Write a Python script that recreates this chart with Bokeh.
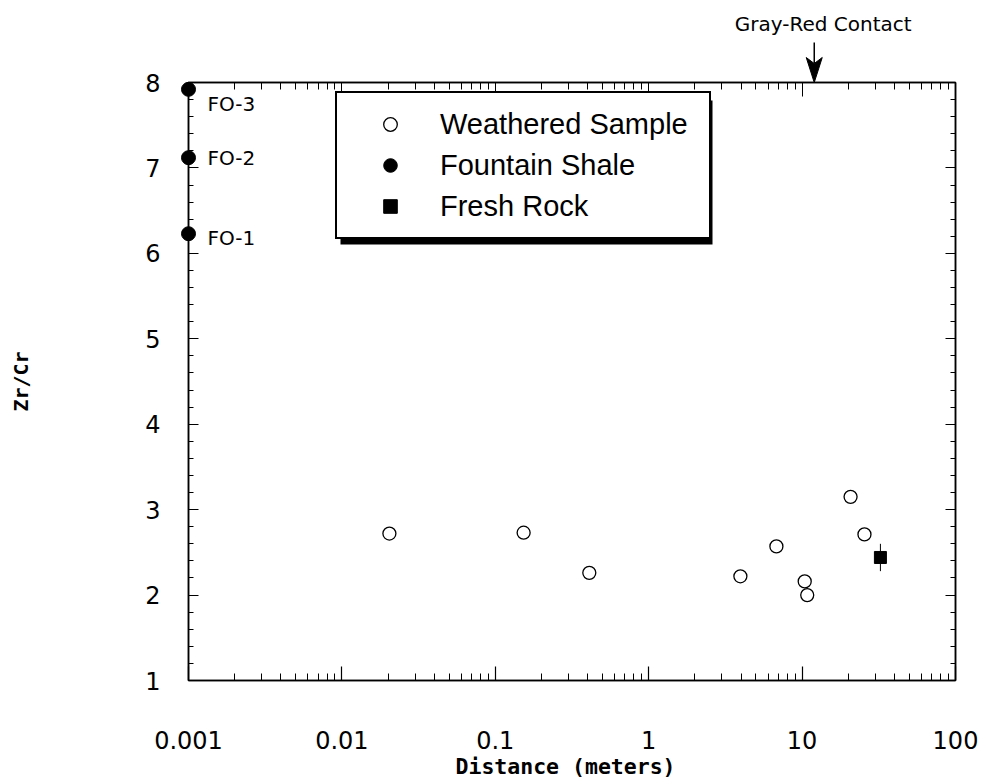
from bokeh.plotting import figure
from bokeh.models import (LogAxis, LinearAxis, LogTicker, BasicTicker, Legend, LegendItem,
                          BoxAnnotation, Range1d)
from bokeh.core.properties import value
from bokeh.embed import file_html
from bokeh.resources import INLINE

# ---- data ----
weathered_x = [0.0204, 0.153, 0.41, 3.96, 6.8, 10.4, 10.8, 20.7, 25.5]
weathered_y = [2.72, 2.73, 2.26, 2.22, 2.57, 2.16, 2.00, 3.15, 2.71]
shale_x = [0.001, 0.001, 0.001]
shale_y = [7.92, 7.12, 6.23]
shale_labels = ["FO-3", "FO-2", "FO-1"]
fresh_x = [32.4]
fresh_y = [2.44]
fresh_err = [0.16]
x_ticks = [0.001, 0.01, 0.1, 1, 10, 100]
x_tick_labels = ["0.001", "0.01", "0.1", "1", "10", "100"]
contact_x = [12.0]
contact_text = ["Gray-Red Contact"]

X_MIN, X_MAX = 0.001, 100
Y_MIN, Y_MAX = 1, 8
SANS = "Liberation Sans"
TICKF = "DejaVu Sans"
MONO = "DejaVu Sans Mono"

FRAME_LEFT, FRAME_RIGHT = 188, 955
FRAME_TOP, FRAME_BOTTOM = 82, 680
PX_PER_Y = (FRAME_BOTTOM - FRAME_TOP) / (Y_MAX - Y_MIN)
PX_PER_DECADE = (FRAME_RIGHT - FRAME_LEFT) / 5.0

p = figure(width=990, height=784, x_axis_type="log",
           x_range=Range1d(X_MIN, X_MAX), y_range=Range1d(Y_MIN, Y_MAX),
           output_backend="svg", toolbar_location=None,
           min_border_left=FRAME_LEFT, min_border_right=990 - FRAME_RIGHT,
           min_border_top=FRAME_TOP, min_border_bottom=784 - FRAME_BOTTOM,
           background_fill_color="white", border_fill_color="white")
p.grid.visible = False
p.outline_line_color = "black"
p.outline_line_width = 1.5

# bottom axis
xax = p.xaxis[0]
xax.ticker = LogTicker(desired_num_ticks=6, num_minor_ticks=10)
xax.major_label_overrides = {t: l for t, l in zip(x_ticks, x_tick_labels)}
xax.axis_label = "Distance  (meters)"
xax.axis_label_text_font = MONO
xax.axis_label_text_font_style = "bold"
xax.axis_label_text_font_size = "21.5px"
xax.axis_label_text_color = "black"
xax.axis_label_standoff = 2
xax.major_label_text_font = TICKF
xax.major_label_text_font_size = "24px"
xax.major_label_text_color = "black"
xax.major_label_standoff = 50
xax.major_tick_in = 14
xax.major_tick_out = 0
xax.minor_tick_in = 7
xax.minor_tick_out = 0
xax.axis_line_width = 1.5
xax.major_tick_line_width = 1.2
xax.minor_tick_line_width = 1

# left axis
yax = p.yaxis[0]
yax.ticker = BasicTicker(desired_num_ticks=8, num_minor_ticks=5)
yax.axis_label = "Zr/Cr"
yax.axis_label_text_font = MONO
yax.axis_label_text_font_style = "bold"
yax.axis_label_text_font_size = "20px"
yax.axis_label_text_color = "black"
yax.axis_label_standoff = 109
yax.major_label_text_font = TICKF
yax.major_label_text_font_size = "24px"
yax.major_label_text_color = "black"
yax.major_label_standoff = 28
yax.major_label_orientation = "horizontal"
yax.major_tick_in = 10
yax.major_tick_out = 0
yax.minor_tick_in = 5
yax.minor_tick_out = 0
yax.axis_line_width = 1.5

# top and right axes (ticks only, labels hidden)
top = LogAxis(ticker=LogTicker(desired_num_ticks=6, num_minor_ticks=10),
              major_label_text_font_size="2px", major_label_text_alpha=0,
              major_label_standoff=0,
              major_tick_in=14, major_tick_out=0, minor_tick_in=7, minor_tick_out=0,
              axis_line_width=1.5)
p.add_layout(top, "above")
right = LinearAxis(ticker=BasicTicker(desired_num_ticks=8, num_minor_ticks=5),
                   major_label_text_font_size="2px", major_label_text_alpha=0,
                   major_label_standoff=0,
                   major_tick_in=10, major_tick_out=0, minor_tick_in=5, minor_tick_out=0,
                   axis_line_width=1.5)
p.add_layout(right, "right")

# glyphs
p.segment(x0=fresh_x, x1=fresh_x,
          y0=[y - e for y, e in zip(fresh_y, fresh_err)],
          y1=[y + e for y, e in zip(fresh_y, fresh_err)],
          line_color="black", line_width=1)
r_w = p.scatter(weathered_x, weathered_y, marker="circle", size=13,
                fill_color="white", line_color="black", line_width=1.3)
r_s = p.scatter(shale_x, shale_y, marker="circle", size=14,
                fill_color="black", line_color="black", level="overlay")
r_f = p.scatter(fresh_x, fresh_y, marker="square", size=12,
                fill_color="black", line_color="black")

p.text(x=shale_x, y=shale_y, text=shale_labels, x_offset=19, y_offset=[15, 0, 4],
       text_font=value(TICKF), text_font_size="20px", text_baseline="middle",
       text_align="left", text_color="black")

# legend shadow + legend
shadow = BoxAnnotation(left=152, right=524, top=580, bottom=436,
                       left_units="screen", right_units="screen",
                       top_units="screen", bottom_units="screen",
                       fill_color="black", fill_alpha=1, line_color=None)
p.add_layout(shadow)
legend = Legend(items=[LegendItem(label="Weathered Sample", renderers=[r_w]),
                       LegendItem(label="Fountain Shale", renderers=[r_s]),
                       LegendItem(label="Fresh Rock", renderers=[r_f])],
                location=(147, 441), padding=14, spacing=7,
                label_height=34, glyph_height=34, glyph_width=78,
                label_standoff=11, label_width=255,
                label_text_font=SANS, label_text_font_size="29px",
                label_text_color="black",
                border_line_color="black", border_line_width=2, border_line_alpha=1,
                background_fill_color="white", background_fill_alpha=1,
                margin=0)
p.add_layout(legend, "center")

# contact arrow and label: glyphs at overlay level so they draw above the frame
SHAFT_PX, HEAD_LEN_PX, HEAD_NOTCH_PX, HEAD_HALF_W_PX = 40, 25, 19, 8
f = 10 ** (HEAD_HALF_W_PX / PX_PER_DECADE)
tip_y = [Y_MAX for _ in contact_x]
tail_y = [Y_MAX + SHAFT_PX / PX_PER_Y for _ in contact_x]
notch_y = [Y_MAX + HEAD_NOTCH_PX / PX_PER_Y for _ in contact_x]
head_xs = [[cx / f, cx, cx * f, cx] for cx in contact_x]
head_ys = [[Y_MAX + HEAD_LEN_PX / PX_PER_Y, Y_MAX, Y_MAX + HEAD_LEN_PX / PX_PER_Y, ny]
           for ny in notch_y]
p.segment(x0=contact_x, x1=contact_x, y0=tail_y, y1=notch_y,
          line_color="black", line_width=1.5, level="overlay")
p.patches(xs=head_xs, ys=head_ys, fill_color="black", line_color="black",
          line_width=1, level="overlay")
p.text(x=contact_x, y=tip_y, text=contact_text, x_offset=9, y_offset=-59,
       text_align="center", text_baseline="middle",
       text_font=value(TICKF), text_font_size="20px", text_color="black",
       level="overlay")

open("out.html", "w").write(file_html(p, INLINE))
